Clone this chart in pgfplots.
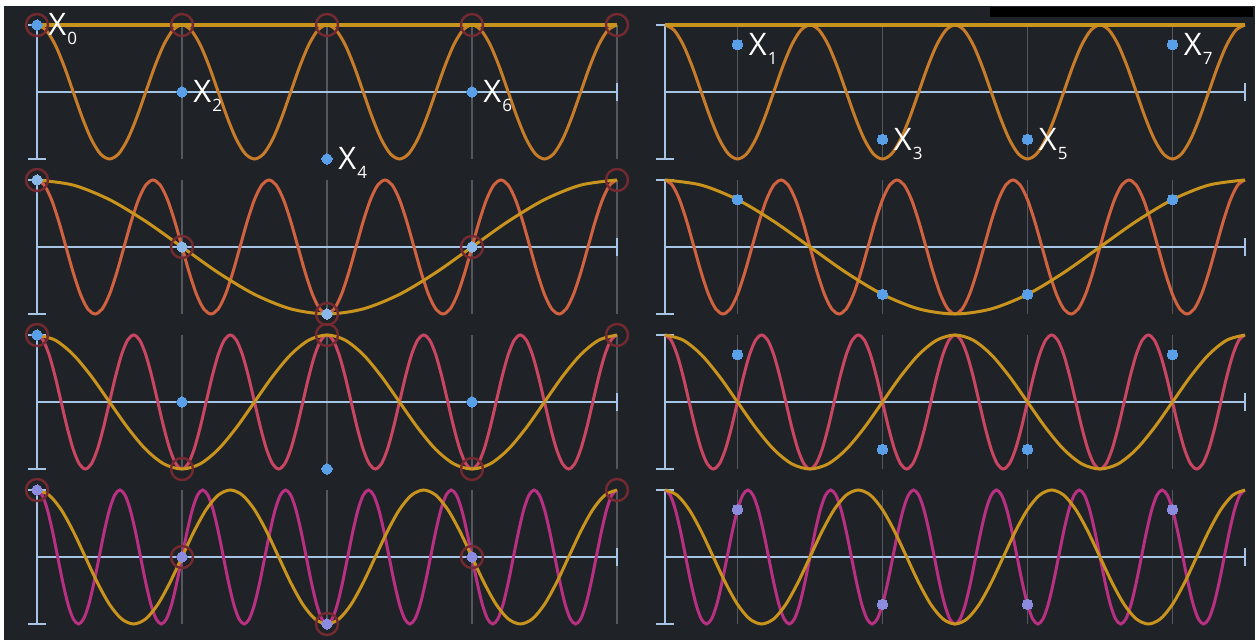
\documentclass[border=0pt]{standalone}
\usepackage{pgfplots}
\pgfplotsset{compat=1.18}
\usepackage{pgfplotstable}
\usepackage{fontspec}
\setmainfont{Open Sans}

\definecolor{bg}{RGB}{31,34,38}
\definecolor{gold}{RGB}{200,148,30}
\definecolor{waveA}{RGB}{199,124,42}
\definecolor{waveB}{RGB}{208,98,64}
\definecolor{waveC}{RGB}{200,70,98}
\definecolor{waveD}{RGB}{184,48,130}
\definecolor{axisblue}{RGB}{166,196,228}
\definecolor{gridgray}{RGB}{84,88,94}
\definecolor{ring}{RGB}{116,42,48}
\definecolor{dot}{RGB}{90,160,232}
\definecolor{dotlight}{RGB}{140,184,232}
\definecolor{dotlav}{RGB}{140,140,222}

% one cosine period sampled 16 times, repeated for seven periods
\pgfplotstableread[row sep=\\]{
c\\
1\\0.9239\\0.7071\\0.3827\\0\\-0.3827\\-0.7071\\-0.9239\\-1\\-0.9239\\-0.7071\\-0.3827\\0\\0.3827\\0.7071\\0.9239\\
1\\0.9239\\0.7071\\0.3827\\0\\-0.3827\\-0.7071\\-0.9239\\-1\\-0.9239\\-0.7071\\-0.3827\\0\\0.3827\\0.7071\\0.9239\\
1\\0.9239\\0.7071\\0.3827\\0\\-0.3827\\-0.7071\\-0.9239\\-1\\-0.9239\\-0.7071\\-0.3827\\0\\0.3827\\0.7071\\0.9239\\
1\\0.9239\\0.7071\\0.3827\\0\\-0.3827\\-0.7071\\-0.9239\\-1\\-0.9239\\-0.7071\\-0.3827\\0\\0.3827\\0.7071\\0.9239\\
1\\0.9239\\0.7071\\0.3827\\0\\-0.3827\\-0.7071\\-0.9239\\-1\\-0.9239\\-0.7071\\-0.3827\\0\\0.3827\\0.7071\\0.9239\\
1\\0.9239\\0.7071\\0.3827\\0\\-0.3827\\-0.7071\\-0.9239\\-1\\-0.9239\\-0.7071\\-0.3827\\0\\0.3827\\0.7071\\0.9239\\
1\\0.9239\\0.7071\\0.3827\\0\\-0.3827\\-0.7071\\-0.9239\\-1\\-0.9239\\-0.7071\\-0.3827\\0\\0.3827\\0.7071\\0.9239\\
1\\
}\cosine

% signal samples x[n]
\pgfplotstableread{
t x
0 1
2 0
4 -1
6 0
}\evensamples
\pgfplotstableread{
t x
1 0.7071
3 -0.7071
5 -0.7071
7 0.7071
}\oddsamples

\pgfplotsset{
  panel/.style={scale only axis, width=290pt, height=67pt,
    xmin=0, xmax=8, ymin=-1, ymax=1, hide axis, clip=false,
    anchor=south west},
}

% #1 cycles over the panel, #2 colour, #3 first index to drop
\newcommand\wave[3]{%
  \addplot[#2, line width=1.5pt, smooth]
    table[x expr=\coordindex/(2*#1), y=c,
          skip coords between index={#3}{400}] {\cosine};}

\newcommand\leftframe{%
  \draw[gridgray, line width=0.7pt]
    (axis cs:2,1) -- (axis cs:2,-1) (axis cs:4,1) -- (axis cs:4,-1)
    (axis cs:6,1) -- (axis cs:6,-1) (axis cs:8,1) -- (axis cs:8,-1);
  \draw[axisblue, line width=1pt]
    (axis cs:0,1) -- (axis cs:0,-1) (axis cs:0,0) -- (axis cs:8,0)
    ([xshift=-4.5pt]axis cs:0,-1) -- ([xshift=4.5pt]axis cs:0,-1)
    ([xshift=-4.5pt]axis cs:0,1) -- ([xshift=4.5pt]axis cs:0,1)
    ([yshift=-4.5pt]axis cs:8,0) -- ([yshift=4.5pt]axis cs:8,0);}

\newcommand\rightframe{%
  \draw[gridgray, line width=0.7pt]
    (axis cs:1,1) -- (axis cs:1,-1) (axis cs:3,1) -- (axis cs:3,-1)
    (axis cs:5,1) -- (axis cs:5,-1) (axis cs:7,1) -- (axis cs:7,-1);
  \draw[axisblue, line width=1pt]
    (axis cs:0,1) -- (axis cs:0,-1) (axis cs:0,0) -- (axis cs:8,0)
    ([xshift=-4.5pt]axis cs:0,-1) -- ([xshift=4.5pt]axis cs:0,-1)
    ([xshift=-4.5pt]axis cs:0,1) -- ([xshift=4.5pt]axis cs:0,1)
    ([yshift=-4.5pt]axis cs:8,0) -- ([yshift=4.5pt]axis cs:8,0);}

\newcommand\rings[1]{%
  \addplot[only marks, mark=o, mark size=5.5pt,
    mark options={draw=ring, line width=1.2pt}] coordinates {#1};}

\newcommand\samplepts[2]{%
  \addplot[only marks, mark=*, mark size=2.6pt, color=#2,
    mark options={draw=#2, fill=#2, line width=0pt}] table[x=t, y=x] {#1};}

\newcommand\lab[1]{\fontsize{15.5pt}{17pt}\selectfont X\kern0.6pt\raisebox{-4.5pt}{\fontsize{8.5pt}{9pt}\selectfont #1}}
\newcommand\labat[2]{\node[anchor=base west, text=white, inner sep=0pt,
    xshift=5.5pt, yshift=-5.5pt] at (axis cs:#1) {\lab{#2}};}

\begin{document}
\begin{tikzpicture}
\useasboundingbox (0,0) rectangle (630pt,-320pt);
\fill[white] (0,0) rectangle (630pt,-320pt);
\fill[bg] (2pt,-3pt) rectangle (627.5pt,-320pt);
\fill[black] (495pt,-3.5pt) rectangle (626.5pt,-8.5pt);

% ---- left column: even samples ----
\begin{axis}[panel, at={(18.5pt,-79.5pt)}]
  \leftframe
  \wave{4}{waveA}{65}
  \addplot[gold, line width=1.6pt] coordinates {(0,1) (8,1)};
  \rings{(0,1) (2,1) (4,1) (6,1) (8,1)}
  \samplepts{\evensamples}{dot}
  \labat{0,1}{0}\labat{2,0}{2}\labat{4,-1}{4}\labat{6,0}{6}
\end{axis}

\begin{axis}[panel, at={(18.5pt,-157pt)}]
  \leftframe
  \wave{5}{waveB}{81}
  \wave{1}{gold}{17}
  \rings{(0,1) (2,0) (4,-1) (6,0) (8,1)}
  \samplepts{\evensamples}{dotlight}
\end{axis}

\begin{axis}[panel, at={(18.5pt,-234.5pt)}]
  \leftframe
  \wave{6}{waveC}{97}
  \wave{2}{gold}{33}
  \rings{(0,1) (2,-1) (4,1) (6,-1) (8,1)}
  \samplepts{\evensamples}{dot}
\end{axis}

\begin{axis}[panel, at={(18.5pt,-312pt)}]
  \leftframe
  \wave{7}{waveD}{113}
  \wave{3}{gold}{49}
  \rings{(0,1) (2,0) (4,-1) (6,0) (8,1)}
  \samplepts{\evensamples}{dotlav}
\end{axis}

% ---- right column: odd samples ----
\begin{axis}[panel, at={(332.5pt,-79.5pt)}]
  \rightframe
  \wave{4}{waveA}{65}
  \addplot[gold, line width=1.6pt] coordinates {(0,1) (8,1)};
  \samplepts{\oddsamples}{dot}
  \labat{1,0.7071}{1}\labat{3,-0.7071}{3}\labat{5,-0.7071}{5}\labat{7,0.7071}{7}
\end{axis}

\begin{axis}[panel, at={(332.5pt,-157pt)}]
  \rightframe
  \wave{5}{waveB}{81}
  \wave{1}{gold}{17}
  \samplepts{\oddsamples}{dot}
\end{axis}

\begin{axis}[panel, at={(332.5pt,-234.5pt)}]
  \rightframe
  \wave{6}{waveC}{97}
  \wave{2}{gold}{33}
  \samplepts{\oddsamples}{dot}
\end{axis}

\begin{axis}[panel, at={(332.5pt,-312pt)}]
  \rightframe
  \wave{7}{waveD}{113}
  \wave{3}{gold}{49}
  \samplepts{\oddsamples}{dotlav}
\end{axis}
\end{tikzpicture}
\end{document}
